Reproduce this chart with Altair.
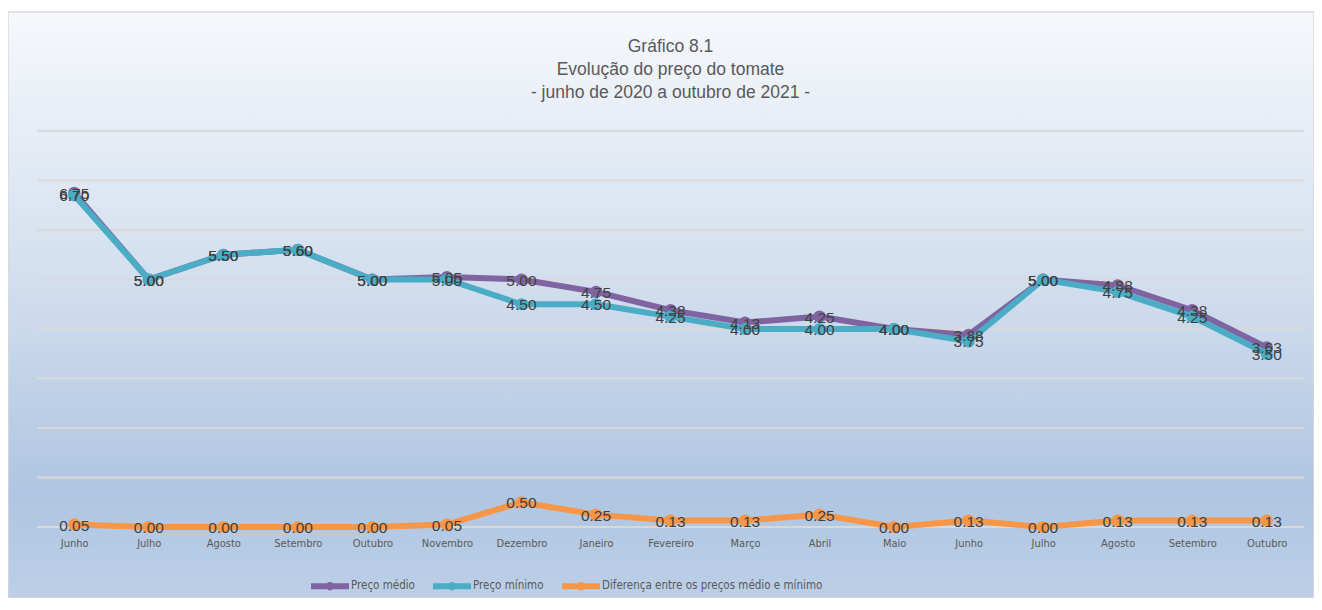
import altair as alt
import pandas as pd

meses = ["Junho", "Julho", "Agosto", "Setembro", "Outubro", "Novembro", "Dezembro",
         "Janeiro", "Fevereiro", "Março", "Abril", "Maio", "Junho", "Julho",
         "Agosto", "Setembro", "Outubro"]
preco_medio = [6.75, 5.00, 5.50, 5.60, 5.00, 5.05, 5.00, 4.75, 4.38, 4.13, 4.25,
               4.00, 3.88, 5.00, 4.88, 4.38, 3.63]
preco_minimo = [6.70, 5.00, 5.50, 5.60, 5.00, 5.00, 4.50, 4.50, 4.25, 4.00, 4.00,
                4.00, 3.75, 5.00, 4.75, 4.25, 3.50]
diferenca = [0.05, 0.00, 0.00, 0.00, 0.00, 0.05, 0.50, 0.25, 0.13, 0.13, 0.25,
             0.00, 0.13, 0.00, 0.13, 0.13, 0.13]
series = ["Preço médio", "Preço mínimo", "Diferença entre os preços médio e mínimo"]
cores = ["#8064A2", "#4BACC6", "#F79646"]
grid_values = [0, 1, 2, 3, 4, 5, 6, 7, 8]
titulo = ["Gráfico 8.1", "Evolução do preço do tomate",
          "- junho de 2020 a outubro de 2021 -"]

W, H = 1267, 396
PAD_L, PAD_T, PAD_R, PAD_B = 29, 123, 10, 71
COND = "'DejaVu Sans Condensed', 'Liberation Sans', sans-serif"

rows = []
for s, vals in zip(series, [preco_medio, preco_minimo, diferenca]):
    for i, v in enumerate(vals):
        rows.append({"idx": i, "serie": s, "valor": v})
df = pd.DataFrame(rows)

label_expr = "[" + ",".join("'" + m + "'" for m in meses) + "][datum.value]"

x_enc = alt.X("idx:O", scale=alt.Scale(type="point", padding=0.5),
              axis=alt.Axis(labelExpr=label_expr, labelAngle=0, ticks=False,
                            domain=False, grid=False, title=None,
                            labelFont=COND, labelFontSize=11,
                            labelColor="#595959", labelPadding=10, zindex=1))
y_scale = alt.Scale(domain=[0, 8], nice=False, zero=True)
y_enc = alt.Y("valor:Q", scale=y_scale, axis=None)

color_scale = alt.Scale(domain=series, range=cores)

# background gradient
bg = alt.Chart(pd.DataFrame({"a": [0]})).mark_rect(
    color=alt.Gradient(
        gradient="linear", x1=0, x2=0, y1=0, y2=1,
        stops=[alt.GradientStop(offset=0, color="#f6f8fc"),
               alt.GradientStop(offset=0.45, color="#d3dfee"),
               alt.GradientStop(offset=0.82, color="#afc5e1"),
               alt.GradientStop(offset=1, color="#bccfe7")]),
    stroke="#d9d9d9", strokeWidth=1.5
).encode(x=alt.value(-PAD_L), x2=alt.value(W + PAD_R),
         y=alt.value(-119), y2=alt.value(H + PAD_B))

grid = alt.Chart(pd.DataFrame({"g": grid_values})).mark_rule(
    color="#d9d9d9", strokeWidth=2
).encode(y=alt.Y("g:Q", scale=y_scale, axis=None))

base = alt.Chart(df)

symbol_path = ("M-1,-0.16 L1,-0.16 L1,0.16 L-1,0.16 Z "
               "M-0.22,0 A0.22,0.22 0 1,1 0.22,0 A0.22,0.22 0 1,1 -0.22,0 Z")

legend = alt.Legend(title=None, orient="none", direction="horizontal",
                    legendX=274, legendY=436, symbolType=symbol_path,
                    symbolSize=1444, symbolStrokeWidth=0,
                    labelFont=COND, labelFontSize=11.5,
                    labelColor="#595959", labelOffset=2, columnPadding=18,
                    labelLimit=400, padding=0)

layers = [bg, grid]
for s, c in zip(series, cores):
    f = base.transform_filter(alt.datum.serie == s)
    layers.append(f.mark_line(strokeWidth=6, color=c).encode(x=x_enc, y=y_enc))
    layers.append(f.mark_point(filled=True, size=150, opacity=1).encode(
        x=x_enc, y=y_enc,
        color=alt.Color("serie:N", scale=color_scale, legend=legend)))

labels = base.mark_text(font="Liberation Sans", fontSize=15.5, color="#404040",
                        align="center", baseline="middle", dy=1).encode(
    x=x_enc, y=y_enc, text=alt.Text("valor:Q", format=".2f"))
layers.append(labels)

chart = alt.layer(*layers).properties(
    width=W, height=H,
    autosize=alt.AutoSizeParams(type="none"),
    padding={"left": PAD_L, "top": PAD_T, "right": PAD_R, "bottom": PAD_B},
    title=alt.TitleParams(text=titulo, anchor="middle", font="Liberation Sans",
                          fontSize=17.5, fontWeight="normal", color="#595959",
                          lineHeight=23, offset=-90)
).configure_view(stroke=None).configure(background="white")

chart.save("out.html", embed_options={"renderer": "svg", "actions": False})
